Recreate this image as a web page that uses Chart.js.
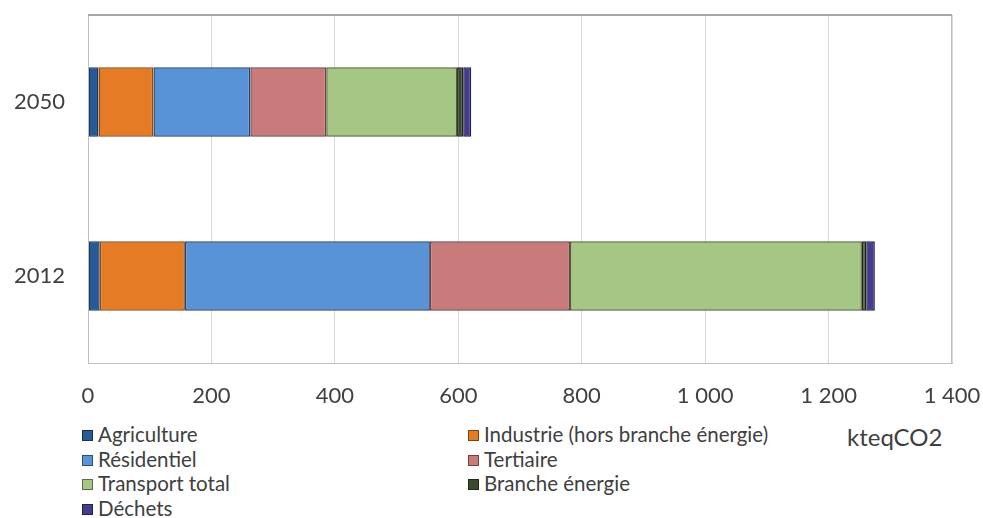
<!DOCTYPE html>
<html>
<head>
<meta charset="utf-8">
<script src="https://cdn.jsdelivr.net/npm/chart.js@4/dist/chart.umd.min.js"></script>
<style>
  body { margin: 0; background: #fff; font-family: Lato, sans-serif; }
  #wrap { position: relative; width: 983px; height: 518px; }
  #legend { position: absolute; left: 82px; top: 422px; width: 760px; color: #404040; font-size: 20.5px; }
  .item { position: absolute; height: 25px; line-height: 25px; white-space: nowrap; }
  .box { display: inline-block; width: 9px; height: 9px; margin-right: 5px; vertical-align: 1px; border: 1px solid rgba(0,0,0,0.45); }
  #unit { position: absolute; left: 847px; top: 422px; font-size: 24px; color: #404040; line-height: 30px; }
</style>
</head>
<body>
<div id="wrap">
  <canvas id="c" width="983" height="420"></canvas>
  <div id="legend"></div>
  <div id="unit">kteqCO2</div>
</div>
<script>
var years = ['2050', '2012'];
var sectors = ['Agriculture', 'Industrie (hors branche énergie)', 'Résidentiel', 'Tertiaire',
               'Transport total', 'Branche énergie', 'Déchets'];
// values per sector, in order [2050, 2012]
var agriculture = [17, 19];
var industrie = [89, 138];
var residentiel = [157, 397];
var tertiaire = [123, 227];
var transport = [212, 473];
var brancheEnergie = [10, 7];
var dechets = [13, 14];
var xTicks = [0, 200, 400, 600, 800, 1000, 1200, 1400];

var colors = ['#2a5a96', '#e57b25', '#5793d6', '#c97a7b', '#a6c784', '#3b4a2c', '#443c8e'];
var borders = ['#1b3a63', '#8a4a12', '#23446e', '#6e3f40', '#4f6236', '#1d2616', '#221d52'];
var seriesValues = [agriculture, industrie, residentiel, tertiaire, transport, brancheEnergie, dechets];

function fmt(v) {
  return String(v).replace(/\B(?=(\d{3})+(?!\d))/g, ' ');
}

var frame = {
  id: 'frame',
  afterDraw: function (chart) {
    var a = chart.chartArea, ctx = chart.ctx;
    ctx.save();
    ctx.strokeStyle = '#bfbfbf';
    ctx.lineWidth = 1;
    ctx.strokeRect(a.left + 0.5, a.top + 0.5, a.right - a.left - 1, a.bottom - a.top);
    ctx.strokeStyle = '#a6a6a6';
    ctx.lineWidth = 2;
    ctx.beginPath();
    ctx.moveTo(a.left, a.top);
    ctx.lineTo(a.right, a.top);
    ctx.stroke();
    ctx.restore();
  }
};

var chart = new Chart(document.getElementById('c'), {
  type: 'bar',
  data: {
    labels: years,
    datasets: sectors.map(function (s, i) {
      return {
        label: s,
        data: seriesValues[i],
        backgroundColor: colors[i],
        borderColor: borders[i],
        borderWidth: 1.5,
        borderSkipped: false,
        categoryPercentage: 0.8,
        barPercentage: 0.5
      };
    })
  },
  options: {
    indexAxis: 'y',
    responsive: false,
    animation: false,
    layout: { padding: { top: 15, right: 31, left: 0, bottom: 0 } },
    plugins: { legend: { display: false }, tooltip: { enabled: false } },
    scales: {
      x: {
        stacked: true,
        min: 0,
        max: 1400,
        afterBuildTicks: function (s) { s.ticks = xTicks.map(function (v) { return { value: v }; }); },
        afterFit: function (s) { s.height = 57; s.paddingLeft = 0; s.paddingRight = 0; },
        grid: { color: '#d9d9d9', drawTicks: false },
        border: { color: '#bfbfbf' },
        ticks: {
          padding: 20,
          color: '#404040',
          font: { family: 'Lato', size: 22 },
          maxRotation: 0,
          callback: function (v) { return fmt(v); }
        }
      },
      y: {
        stacked: true,
        afterFit: function (s) { s.width = 88; s.paddingTop = 0; s.paddingBottom = 0; },
        grid: { display: false, drawTicks: false },
        border: { color: '#bfbfbf' },
        ticks: {
          padding: 23,
          color: '#404040',
          font: { family: 'Lato', size: 22 }
        }
      }
    }
  },
  plugins: [frame]
});

// legend in two columns, filled row by row
var legend = document.getElementById('legend');
chart.data.datasets.forEach(function (ds, i) {
  var el = document.createElement('div');
  el.className = 'item';
  el.style.left = (i % 2 === 0 ? 0 : 386) + 'px';
  el.style.top = (Math.floor(i / 2) * 24.7) + 'px';
  el.innerHTML = '<span class="box" style="background:' + ds.backgroundColor + '"></span>' + ds.label;
  legend.appendChild(el);
});
</script>
</body>
</html>
